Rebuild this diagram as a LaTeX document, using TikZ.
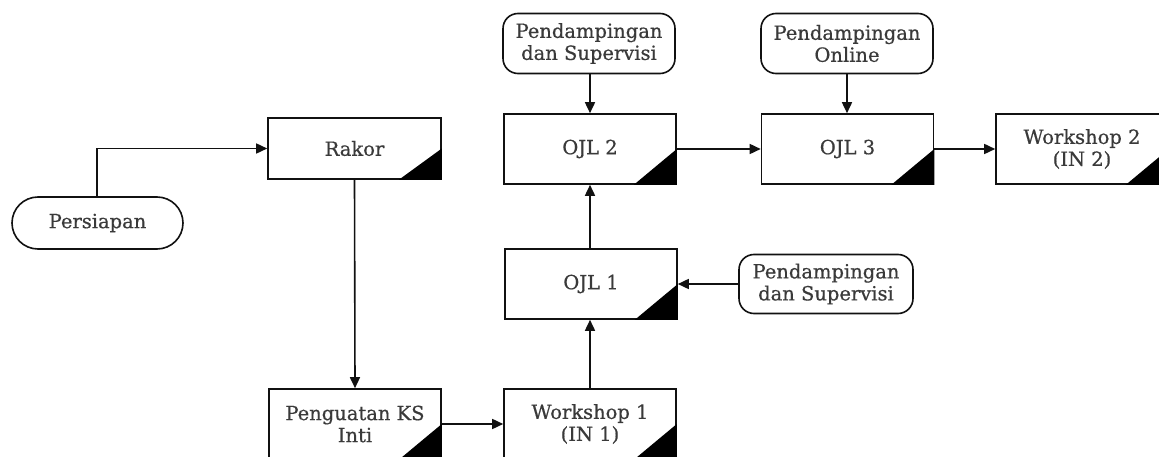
\documentclass[tikz,border=0pt]{standalone}
\usepackage{fontspec}
\setmainfont{DejaVu Serif}[FakeBold=0.6]
\usetikzlibrary{arrows.meta}
\definecolor{txt}{HTML}{3A3A3A}
\definecolor{ln}{HTML}{111111}
\tikzset{
  base/.style={draw=ln, line width=1.6pt, text=txt, align=center, inner sep=0pt,
    font=\fontsize{19.5}{22}\selectfont},
  procbox/.style={base, rectangle, minimum width=172pt, minimum height=70pt},
  term/.style={base, rectangle, rounded corners=26pt, minimum width=171pt, minimum height=52pt},
  support/.style={base, rectangle, rounded corners=15pt, minimum width=172pt, minimum height=60pt},
  conn/.style={draw=ln, line width=1.6pt, -{Triangle[length=11pt,width=10pt]}},
  corner/.style={fill=black}
}
\newcommand{\cornermark}[1]{\fill[corner] (#1.south east) -- (#1.east) -- ([xshift=-43pt]#1.south east) -- cycle;}
\begin{document}
\begin{tikzpicture}[x=1pt,y=-1pt]
\useasboundingbox (0,0) rectangle (1159,457);
\clip (0,0) rectangle (1159,457);
\fill[white] (0,0) rectangle (1159,457);
% nodes
\node[term] (pers) at (97.5,223) {Persiapan};
\node[procbox, minimum height=61pt, minimum width=173pt] (rakor) at (354.5,148.5) {Rakor};
\node[procbox] (peng) at (355,424) {Penguatan KS\\Inti};
\node[procbox] (w1) at (590,424) {Workshop 1\\(IN 1)};
\node[procbox] (ojl1) at (591,284) {OJL 1};
\node[procbox] (ojl2) at (590,149) {OJL 2};
\node[procbox] (ojl3) at (847.5,149) {OJL 3};
\node[procbox] (w2) at (1082,149) {Workshop 2\\(IN 2)};
\node[support] (p1) at (589,43.5) {Pendampingan\\dan Supervisi};
\node[support] (p2) at (847,43.5) {Pendampingan\\Online};
\node[support, minimum width=174pt, minimum height=59pt] (p3) at (826,284) {Pendampingan\\dan Supervisi};
% corner marks
\cornermark{rakor}
\cornermark{peng}
\cornermark{w1}
\cornermark{ojl1}
\cornermark{ojl2}
\cornermark{ojl3}
\cornermark{w2}
% connectors
\draw[conn] (pers.north -| 97,0) |- (rakor.west);
\draw[conn] (rakor.south) -- (peng.north);
\draw[conn] (peng.east) -- (w1.west);
\draw[conn] (w1.north) -- (w1.north |- ojl1.south);
\draw[conn] (ojl1.north -| ojl2.south) -- (ojl2.south);
\draw[conn] (p1.south -| ojl2.north) -- (ojl2.north);
\draw[conn] (ojl2.east) -- (ojl3.west);
\draw[conn] (p2.south) -- (p2.south |- ojl3.north);
\draw[conn] (ojl3.east) -- (w2.west);
\draw[conn] (p3.west) -- (p3.west -| ojl1.east);
\end{tikzpicture}
\end{document}
